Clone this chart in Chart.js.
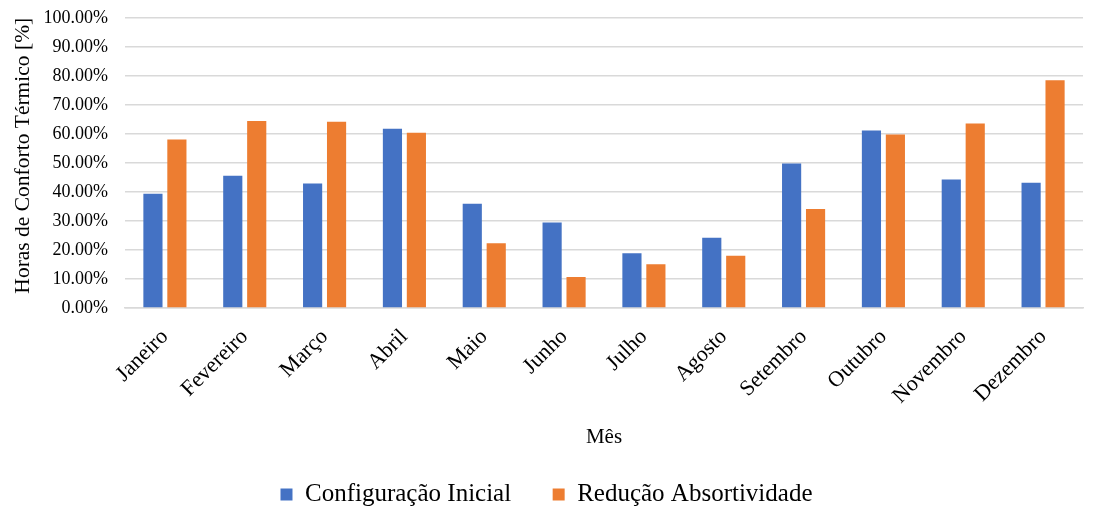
<!DOCTYPE html>
<html>
<head>
<meta charset="utf-8">
<script src="https://cdn.jsdelivr.net/npm/chart.js@4/dist/chart.umd.min.js"></script>
<style>
  html, body { margin: 0; padding: 0; background: #fff; }
  #wrap { width: 1100px; height: 509px; position: relative; }
</style>
</head>
<body>
<div id="wrap"><canvas id="c" width="1100" height="509"></canvas></div>
<script>
// Meses do ano
const meses = ['Janeiro', 'Fevereiro', 'Março', 'Abril', 'Maio', 'Junho',
  'Julho', 'Agosto', 'Setembro', 'Outubro', 'Novembro', 'Dezembro'];

// Horas de conforto térmico (%) por configuração
const configuracaoInicial = [39.4, 45.6, 42.9, 61.8, 35.9, 29.5, 18.9, 24.2, 49.8, 61.2, 44.3, 43.2];
const reducaoAbsortividade = [58.1, 64.4, 64.2, 60.4, 22.3, 10.7, 15.1, 18.0, 34.1, 59.8, 63.6, 78.5];

const serif = '"Liberation Serif", "Times New Roman", serif';
Chart.defaults.font.family = serif;

new Chart(document.getElementById('c'), {
  type: 'bar',
  data: {
    labels: meses,
    datasets: [
      { label: 'Configuração Inicial', data: configuracaoInicial, backgroundColor: '#4472C4' },
      { label: 'Redução Absortividade', data: reducaoAbsortividade, backgroundColor: '#ED7D31' }
    ]
  },
  options: {
    responsive: false,
    animation: false,
    layout: { padding: { top: 0, right: 17, left: 10, bottom: -8 } },
    datasets: { bar: { categoryPercentage: 0.6, barPercentage: 0.8 } },
    plugins: {
      legend: {
        position: 'bottom',
        labels: {
          font: { family: serif, size: 25 },
          color: '#000',
          boxWidth: 12,
          boxHeight: 12,
          padding: 4,
          // wider gap between the two legend entries
          generateLabels: chart => Chart.defaults.plugins.legend.labels.generateLabels(chart)
            .map((item, i) => i === 0 ? { ...item, text: item.text + '\u2003\u2002' } : item)
        }
      },
      tooltip: { enabled: false }
    },
    scales: {
      x: {
        grid: { display: false },
        border: { color: '#d9d9d9', width: 1.5 },
        ticks: {
          font: { family: serif, size: 22 },
          color: '#000',
          minRotation: 45,
          maxRotation: 45,
          padding: 8
        },
        title: {
          display: true,
          text: 'Mês',
          font: { family: serif, size: 21 },
          color: '#000',
          padding: { top: 6, bottom: 28 }
        },
        afterFit: s => { s.height = 170; }
      },
      y: {
        min: 0,
        max: 100,
        grid: {
          color: '#d9d9d9',
          lineWidth: 1.5,
          drawTicks: true,
          tickLength: 10,
          tickColor: 'rgba(0,0,0,0)'
        },
        border: { display: false },
        ticks: {
          stepSize: 10,
          font: { family: serif, size: 18 },
          color: '#000',
          padding: 7,
          callback: v => v.toFixed(2) + '%'
        },
        title: {
          display: true,
          text: 'Horas de Conforto Térmico [%]',
          align: 'end',
          font: { family: serif, size: 21.5 },
          color: '#000',
          padding: { top: 0, bottom: 4 }
        },
        afterFit: s => { s.width = 115; }
      }
    }
  }
});
</script>
</body>
</html>
